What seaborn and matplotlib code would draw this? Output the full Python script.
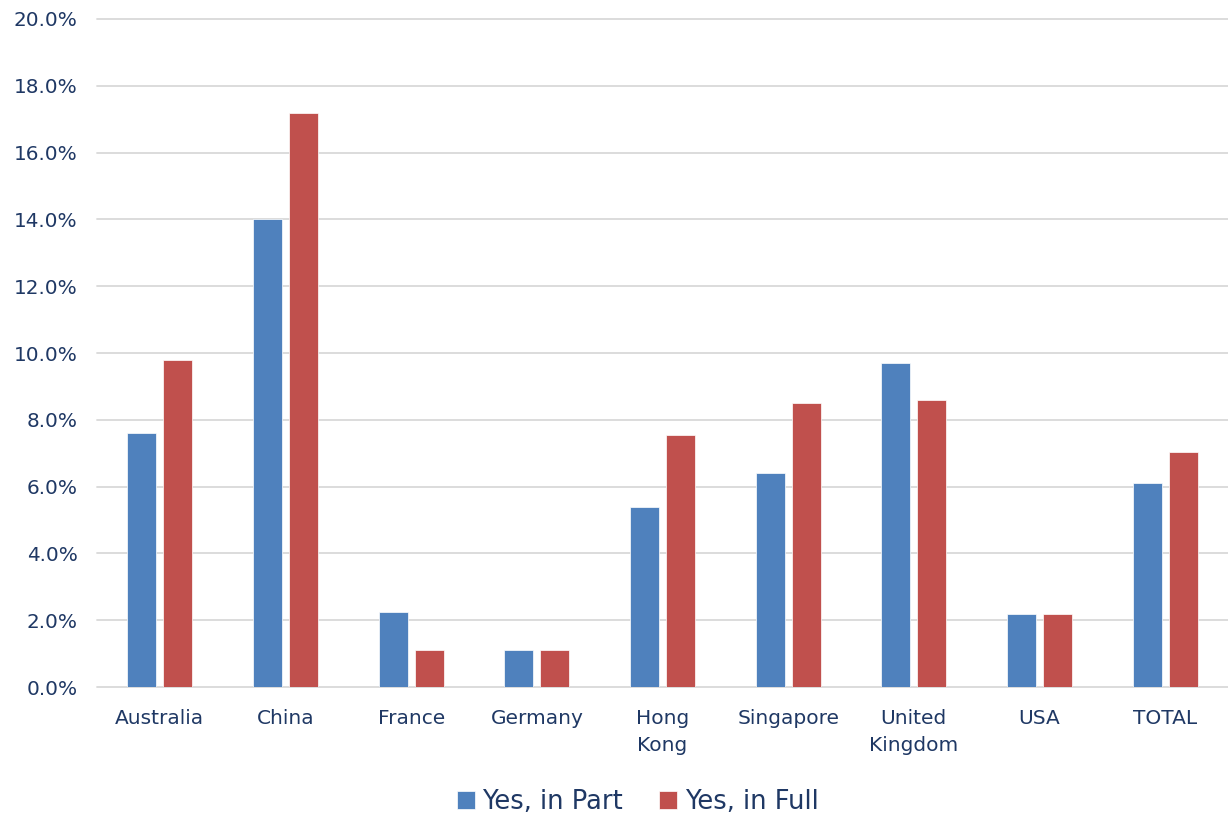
import matplotlib
matplotlib.use("Agg")
import matplotlib.pyplot as plt
import seaborn as sns
import pandas as pd
from matplotlib.ticker import FuncFormatter, MultipleLocator

categories = ["Australia", "China", "France", "Germany", "Hong\nKong", "Singapore",
              "United\nKingdom", "USA", "TOTAL"]
yes_in_part = [7.6, 14.0, 2.25, 1.1, 5.4, 6.4, 9.7, 2.2, 6.1]
yes_in_full = [9.8, 17.2, 1.1, 1.1, 7.55, 8.5, 8.6, 2.2, 7.05]
series_names = ["Yes, in Part", "Yes, in Full"]

df = pd.DataFrame({
    "category": categories * 2,
    "value": yes_in_part + yes_in_full,
    "series": [series_names[0]] * len(categories) + [series_names[1]] * len(categories),
})

sns.set_theme(style="white")
plt.rcParams['font.family'] = ['DejaVu Sans']
text_color = "#1F3864"

fig = plt.figure(figsize=(12.28, 8.15), dpi=100)
ax = fig.add_axes([0.079, 0.157, 0.921, 0.8197])

sns.barplot(data=df, x="category", y="value", hue="series",
            palette=["#4F81BD", "#C0504D"], saturation=1, width=0.573, gap=0.2,
            edgecolor="white", linewidth=0.5, ax=ax, zorder=3)

ax.set_ylim(0, 20)
ax.set_xlim(-0.5, len(categories) - 0.5)
ax.yaxis.set_major_locator(MultipleLocator(2))
ax.yaxis.set_major_formatter(FuncFormatter(lambda v, p: f"{v:.1f}%"))
ax.grid(axis="y", color="#D9D9D9", linewidth=1.3, zorder=0)
for gl in ax.get_ygridlines():
    gl.set_clip_on(False)
ax.set_axisbelow(True)
for s in ax.spines.values():
    s.set_visible(False)
ax.set_xlabel("")
ax.set_ylabel("")
ax.tick_params(axis="both", length=0, colors=text_color)
ax.tick_params(axis="x", pad=16, labelsize=14.5)
ax.tick_params(axis="y", pad=14, labelsize=14.4)
for lbl in ax.get_xticklabels():
    lbl.set_linespacing(1.5)
    lbl.set_verticalalignment("top")
    lbl.set_multialignment("center")

leg = ax.legend(loc="center", bbox_to_anchor=(0.478, -0.172), ncol=2, frameon=False,
                fontsize=18.5, handlelength=0.7, handleheight=0.7, handletextpad=0.3,
                columnspacing=1.4)
for t in leg.get_texts():
    t.set_color(text_color)

fig.savefig("out.png", dpi=100)
